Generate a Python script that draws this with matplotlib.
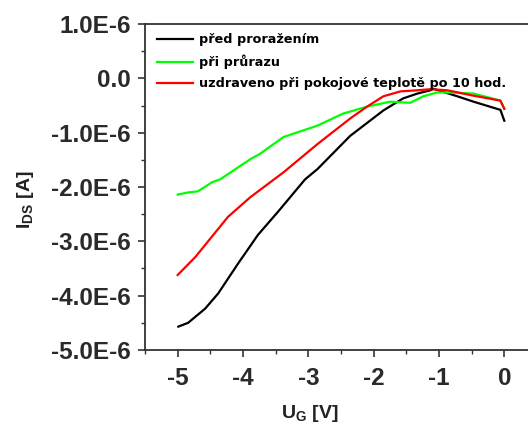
import numpy as np
import matplotlib
matplotlib.use("Agg")
import matplotlib.pyplot as plt
from matplotlib.ticker import MultipleLocator, FuncFormatter

# transfer curves, U_G [V] vs I_DS [1e-6 A]
ug_pred = [-4.99, -4.84, -4.58, -4.38, -4.07, -3.77, -3.46, -3.05, -2.86, -2.36,
           -1.85, -1.55, -1.33, -1.13, -1.09, -0.72, -0.47, -0.06, 0.0]
ids_pred = [-4.57, -4.50, -4.24, -3.96, -3.40, -2.88, -2.45, -1.86, -1.67, -1.06,
            -0.59, -0.37, -0.28, -0.22, -0.19, -0.33, -0.43, -0.58, -0.78]

ug_pri = [-5.0, -4.84, -4.69, -4.47, -4.35, -3.89, -3.74, -3.38, -2.86, -2.47,
          -2.10, -1.75, -1.44, -1.24, -1.03, -0.83, -0.47, -0.06, 0.0]
ids_pri = [-2.14, -2.10, -2.08, -1.91, -1.86, -1.49, -1.39, -1.08, -0.87, -0.65,
           -0.52, -0.43, -0.45, -0.33, -0.26, -0.26, -0.28, -0.41, -0.56]

ug_uzd = [-5.0, -4.73, -4.23, -3.89, -3.38, -2.86, -2.36, -2.10, -1.85, -1.59,
          -1.33, -1.13, -0.87, -0.47, -0.06, 0.0]
ids_uzd = [-3.62, -3.29, -2.55, -2.19, -1.73, -1.21, -0.74, -0.52, -0.33, -0.24,
           -0.22, -0.20, -0.22, -0.32, -0.41, -0.56]

labels = ["před proražením", "při průrazu", "uzdraveno při pokojové teplotě po 10 hod."]
colors = ["black", "#00ff00", "red"]

plt.rcParams['mathtext.fontset'] = 'custom'
plt.rcParams['mathtext.rm'] = 'Liberation Sans:bold'
plt.rcParams['mathtext.bf'] = 'Liberation Sans:bold'

fig = plt.figure(figsize=(5.28, 4.25), dpi=100)
ax = fig.add_axes([0.2746, 0.1765, 1.017 - 0.2746, 0.9435 - 0.1765])

for x, y, c, lab in zip([ug_pred, ug_pri, ug_uzd], [ids_pred, ids_pri, ids_uzd], colors, labels):
    ax.plot(x, np.array(y) * 1e-6, color=c, lw=1.6, label=lab)

ax.set_xlim(-5.5, 0.5)
ax.set_ylim(-5e-6, 1e-6)
ax.xaxis.set_major_locator(MultipleLocator(1))
ax.xaxis.set_minor_locator(MultipleLocator(0.5))
ax.yaxis.set_major_locator(MultipleLocator(1e-6))
ax.yaxis.set_minor_locator(MultipleLocator(0.5e-6))
ax.yaxis.set_major_formatter(FuncFormatter(lambda v, p: "0.0" if abs(v) < 1e-12 else "%.1fE-6" % (v * 1e6)))
ax.xaxis.set_major_formatter(FuncFormatter(lambda v, p: "%d" % round(v)))

for s in ax.spines.values():
    s.set_color("#333333")
    s.set_linewidth(1.3)
ax.tick_params(which='major', direction='out', length=5, width=1.2, color="#333333")
ax.tick_params(axis='y', which='major', pad=5)
ax.tick_params(axis='x', which='major', pad=7)
ax.tick_params(which='minor', direction='out', length=3, width=1.0, color="#333333")
for lab in ax.get_xticklabels() + ax.get_yticklabels():
    lab.set_fontfamily('Liberation Sans')
    lab.set_fontweight('bold')
    lab.set_fontsize(17.5)
    lab.set_color("#2a2a2a")

fig.text(0.587, 0.028, r"U$_{\mathrm{G}}$ [V]", ha='center', va='center',
         fontsize=14, fontfamily='Liberation Sans', fontweight='bold', color="#222222")
fig.text(0.048, 0.53, r"I$_{\mathrm{DS}}$ [A]", ha='center', va='center', rotation=90,
         fontsize=14, fontfamily='Liberation Sans', fontweight='bold', color="#222222")

leg = ax.legend(loc='upper left', bbox_to_anchor=(0.298, 0.922), bbox_transform=fig.transFigure,
                frameon=False, handlelength=2.8, handletextpad=0.45, labelspacing=0.65,
                borderaxespad=0, borderpad=0,
                prop={'family': 'DejaVu Sans', 'weight': 'bold', 'size': 9.2})

fig.savefig("out.png", dpi=100)
